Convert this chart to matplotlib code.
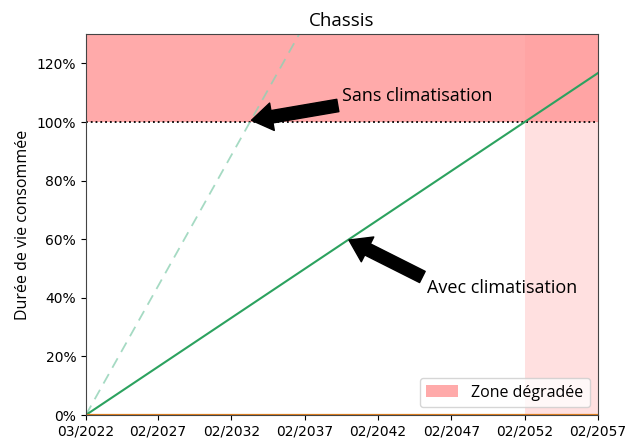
import numpy as np
import matplotlib
matplotlib.use("Agg")
from matplotlib import pyplot as plt
import matplotlib.dates as mdates
from matplotlib.ticker import PercentFormatter
from datetime import datetime

# data
start = datetime(2022, 3, 1)
end = datetime(2057, 2, 1)
fin_vie = datetime(2052, 2, 1)
dates = [start, end]
avec_clim = [0.0, 1.167]
sans_clim = [0.0, 3.12]
zero_line = [0.0, 0.0]
tick_dates = [datetime(2022, 3, 1)] + [datetime(y, 2, 1) for y in [2027, 2032, 2037, 2042, 2047, 2052, 2057]]

fig = plt.figure(figsize=(6.36, 4.38), dpi=100)
ax = fig.add_axes([0.135, 0.0525, 0.805, 0.8695])

txt = "Open Sans"
fleche = dict(facecolor="black", edgecolor="black", shrink=0.02, width=9, headwidth=20, headlength=15)

ax.axhspan(1.0, 1.3, color="#ffaaaa", lw=0, zorder=0)
ax.axvspan(fin_vie, end, color="#ff9999", alpha=0.3, lw=0, zorder=0, label="Zone dégradée")
ax.axhline(1.0, color="black", ls=":", lw=1.3, zorder=2)

ax.plot(dates, sans_clim, color="#8fd1b4", ls=(0, (6, 4)), lw=1.3, alpha=0.8)
ax.plot(dates, avec_clim, color="#2ca25f", lw=1.5)
ax.plot(dates, zero_line, color="#e08020", lw=1.6)

ax.annotate("Sans climatisation", xy=(datetime(2033, 5, 1), 1.005),
            xytext=(datetime(2039, 9, 1), 1.09), fontsize=13, family=txt,
            va="center", arrowprops=fleche)
ax.annotate("Avec climatisation", xy=(datetime(2040, 1, 1), 0.6),
            xytext=(datetime(2045, 6, 1), 0.433), fontsize=13, family=txt,
            va="center", arrowprops=fleche)

ax.set_xlim(start, end)
ax.set_ylim(0, 1.3)
ax.set_xticks(tick_dates)
ax.xaxis.set_major_formatter(mdates.DateFormatter("%m/%Y"))
ax.yaxis.set_major_formatter(PercentFormatter(1.0, decimals=0))
ax.set_yticks([0, 0.2, 0.4, 0.6, 0.8, 1.0, 1.2])
ax.tick_params(labelsize=10)
for s in ax.spines.values():
    s.set_color("#444444")

ax.set_title("Chassis", fontsize=13.5, family=txt)
ax.set_ylabel("Durée de vie consommée", fontsize=11.5, family=txt)

leg = ax.legend(loc="lower right", prop={"family": txt, "size": 11.5})
leg.legend_handles[0].set_color("#ffaaaa")
leg.legend_handles[0].set_alpha(1)

fig.savefig("out.png", dpi=100)
